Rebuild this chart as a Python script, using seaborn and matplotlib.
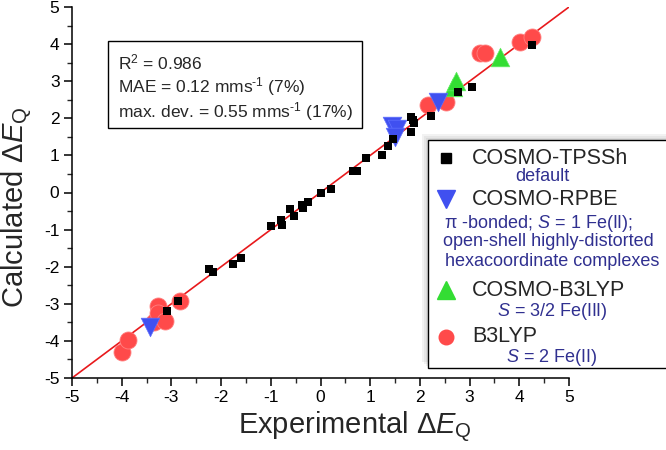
import matplotlib
matplotlib.use("Agg")
import matplotlib.pyplot as plt
import seaborn as sns
from matplotlib.patches import Rectangle
from matplotlib.ticker import MultipleLocator

# COSMO-TPSSh (black squares)
tpssh_exp = [-3.09, -2.87, -2.24, -2.16, -1.77, -1.60, -1.00, -0.80, -0.78, -0.62,
             -0.54, -0.38, -0.35, -0.26, 0.00, 0.21, 0.66, 0.74, 0.91, 1.24,
             1.36, 1.46, 1.83, 1.83, 1.86, 1.88, 2.23, 2.77, 3.04, 4.25]
tpssh_calc = [-3.20, -2.93, -2.05, -2.14, -1.93, -1.76, -0.90, -0.75, -0.87, -0.44,
              -0.64, -0.33, -0.42, -0.26, 0.00, 0.10, 0.58, 0.57, 0.92, 1.01,
              1.24, 1.44, 1.64, 2.04, 1.95, 1.86, 2.07, 2.72, 2.85, 3.97]
# COSMO-RPBE (blue down triangles)
rpbe_exp = [-3.43, 1.43, 1.53, 1.50, 2.37]
rpbe_calc = [-3.62, 1.80, 1.72, 1.50, 2.45]
# COSMO-B3LYP (green up triangles)
cb3_exp = [2.67, 2.72, 3.61]
cb3_calc = [2.85, 3.00, 3.66]
# B3LYP (red circles)
b3_exp = [-4.00, -3.87, -3.35, -3.27, -3.27, -3.13, -2.83, 2.17, 2.53, 3.21, 3.31, 4.01, 4.25]
b3_calc = [-4.30, -3.98, -3.50, -3.06, -3.24, -3.47, -2.93, 2.36, 2.45, 3.77, 3.77, 4.06, 4.18]

ticks = [-5, -4, -3, -2, -1, 0, 1, 2, 3, 4, 5]
stats = [r"R$^2$ = 0.986",
         r"MAE = 0.12 mms$^{\text{-1}}$ (7%)",
         r"max. dev. = 0.55 mms$^{\text{-1}}$ (17%)"]

sns.set_style("ticks")
plt.rcParams['font.family'] = ['Liberation Sans', 'DejaVu Sans']
plt.rcParams['mathtext.fontset'] = 'custom'
plt.rcParams['mathtext.rm'] = 'Liberation Sans'
plt.rcParams['mathtext.it'] = 'Liberation Sans:italic'
plt.rcParams['axes.unicode_minus'] = False

fig = plt.figure(figsize=(6.66, 4.5), dpi=100)
ax = fig.add_axes([72/666, 1 - 378/450, 497/666, 371/450])

ax.plot([-5, 5], [-5, 5], color='#e8191c', lw=1.2, zorder=1)

red = '#ff4a4a'
sns.scatterplot(x=b3_exp, y=b3_calc, ax=ax, marker='o', s=150, color=red,
                edgecolor='#ff8080', linewidth=0.6, zorder=2)
sns.scatterplot(x=cb3_exp, y=cb3_calc, ax=ax, marker='^', s=180, color='#33dd33',
                edgecolor='#66ee66', linewidth=0.5, zorder=3)
sns.scatterplot(x=rpbe_exp, y=rpbe_calc, ax=ax, marker='v', s=180, color='#4050f0',
                edgecolor='#6070ff', linewidth=0.5, zorder=4)
sns.scatterplot(x=tpssh_exp, y=tpssh_calc, ax=ax, marker='s', s=34, color='black',
                edgecolor='black', linewidth=0, zorder=5)

ax.set_xlim(-5, 5)
ax.set_ylim(-5, 5)
ax.set_xticks(ticks)
ax.set_yticks(ticks)
ax.xaxis.set_minor_locator(MultipleLocator(0.5))
ax.yaxis.set_minor_locator(MultipleLocator(0.5))
ax.tick_params(which='major', direction='out', length=6, width=1.1, labelsize=12.5,
               colors='black', pad=3)
ax.tick_params(which='minor', direction='out', length=3.5, width=1.0)
sns.despine(ax=ax)
for sp in ['left', 'bottom']:
    ax.spines[sp].set_linewidth(1.1)
    ax.spines[sp].set_color('black')

ax.set_xlabel(r'Experimental $\Delta E_\mathrm{Q}$', fontsize=21)
ax.set_ylabel(r'Calculated $\Delta E_\mathrm{Q}$', fontsize=21)
ax.xaxis.set_label_coords(0.57, -0.085)
ax.yaxis.set_label_coords(-0.075, 0.46)

# statistics box
fig.patches.append(Rectangle((108/666, 1 - 128/450), 254/666, 87/450,
                             transform=fig.transFigure, fill=False, ec='black', lw=1.0))
for i, s in enumerate(stats):
    fig.text(118/666, 1 - (62 + 25 * i)/450, s, fontsize=12.5, va='center', ha='left')

# legend box with shadow
lx0, ly0, lx1, ly1 = 428, 140, 672, 368
for k, a in enumerate([0.10, 0.10, 0.12]):
    off = 6 - 2 * k
    fig.patches.append(Rectangle(((lx0 - off)/666, 1 - (ly1 - off)/450),
                                 (lx1 - lx0)/666, (ly1 - ly0)/450,
                                 transform=fig.transFigure, fc='gray', ec='none',
                                 alpha=a, zorder=0))
fig.patches.append(Rectangle((lx0/666, 1 - ly1/450), (lx1 - lx0)/666, (ly1 - ly0)/450,
                             transform=fig.transFigure, fc='white', ec='black', lw=1.0,
                             zorder=1))

sub = '#303090'
entries = [
    ('s', 'black', 45, 'COSMO-TPSSh', 158, [('default', 176, 542)]),
    ('v', '#4050f0', 150, 'COSMO-RPBE', 199,
     [(r'π -bonded; $S$ = 1 Fe(II);', 223, 538),
      ('open-shell highly-distorted', 242, 548),
      ('hexacoordinate complexes', 261, 552)]),
    ('^', '#33dd33', 150, 'COSMO-B3LYP', 290, [(r'$S$ = 3/2 Fe(III)', 312, 552)]),
    ('o', red, 110, 'B3LYP', 337, [(r'$S$ = 2 Fe(II)', 357, 552)]),
]
for mk, col, ms, label, yy, subs in entries:
    fig.add_artist(plt.Line2D([446/666], [1 - yy/450], marker=mk, markersize=ms ** 0.5,
                              color=col, linestyle='none', transform=fig.transFigure,
                              zorder=3))
    fig.text(472/666, 1 - yy/450, label, fontsize=15.5, va='center', ha='left', zorder=3)
    for txt, sy, sx in subs:
        fig.text(sx/666, 1 - sy/450, txt, fontsize=13, color=sub, va='center',
                 ha='center', zorder=3)

fig.savefig('out.png', dpi=100)
